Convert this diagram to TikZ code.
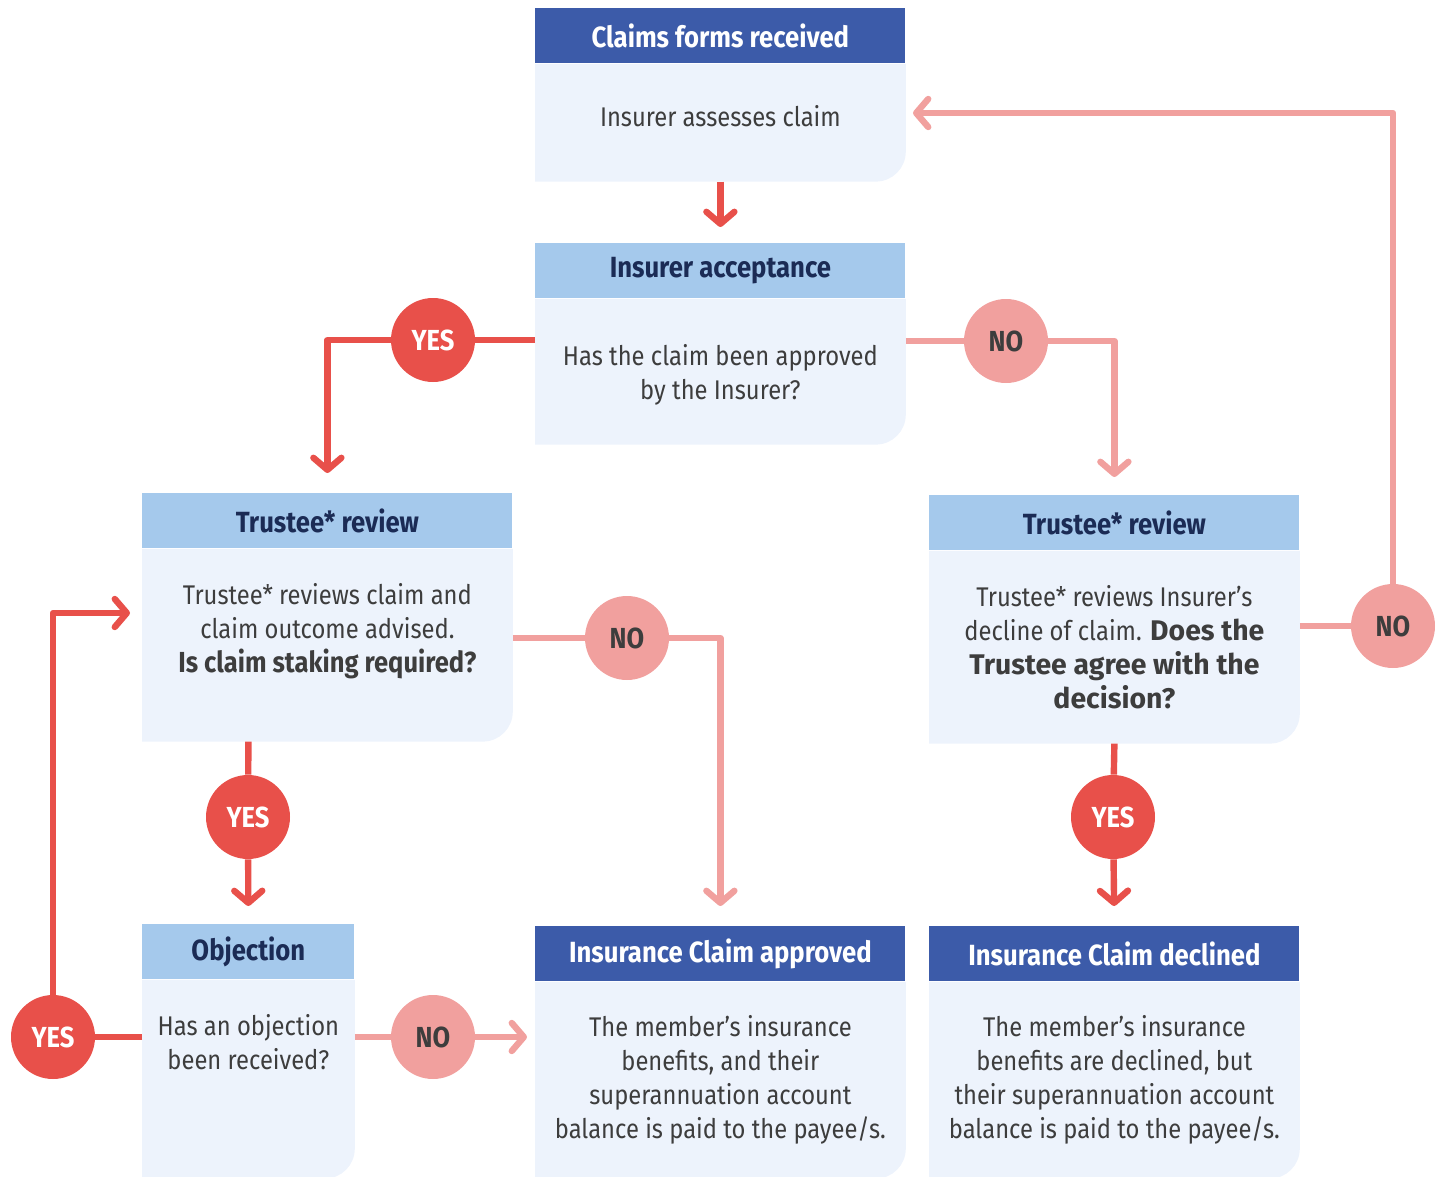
\documentclass[tikz,border=0pt]{standalone}
\usepackage{fontspec}
\setmainfont{Fira Sans}[FakeStretch=0.88]
\newfontfamily\widefont{Fira Sans}
\usetikzlibrary{arrows.meta,backgrounds}

\definecolor{hdrdark}{HTML}{3C5BA9}
\definecolor{hdrlight}{HTML}{A5C9EC}
\definecolor{bodyblue}{HTML}{EDF3FC}
\definecolor{yesred}{HTML}{E8504A}
\definecolor{nopink}{HTML}{F1A09E}
\definecolor{txtgray}{HTML}{3D3D3D}
\definecolor{navy}{HTML}{1B2B55}

\tikzset{
  headdark/.style={rectangle, fill=hdrdark, text=white, inner sep=0pt,
    minimum width=185pt, minimum height=27.5pt,
    font=\fontsize{14.6pt}{16pt}\selectfont\bfseries},
  headlight/.style={headdark, fill=hdrlight, text=navy},
  bodybox/.style={rectangle, inner sep=0pt, minimum width=185pt, align=center,
    text=txtgray, font=\fontsize{13.5pt}{17pt}\selectfont},
  yesdot/.style={circle, fill=yesred, text=white, inner sep=0pt, minimum size=42pt,
    font=\fontsize{14.5pt}{16pt}\selectfont\bfseries},
  nodot/.style={yesdot, fill=nopink, text=txtgray},
  flowarrow/.style={line width=3.2pt, line join=round,
    -{Straight Barb[round,length=6pt,width=14pt]}},
  yesline/.style={flowarrow, draw=yesred},
  noline/.style={flowarrow, draw=nopink}
}

% bold questions inside the bodies
\newcommand{\askbold}[1]{{\fontsize{14.5pt}{17pt}\selectfont\bfseries #1}}
\newcommand{\askwide}[1]{{\widefont\fontsize{14.2pt}{17pt}\selectfont\bfseries #1}}

% light body with one round corner (bottom right)
\newcommand{\cornerfill}[1]{%
  \fill[bodyblue] (#1.north west) -- (#1.north east)
    -- ([yshift=15pt]#1.south east) arc[start angle=0,end angle=-90,radius=15pt]
    -- (#1.south west) -- cycle;}

\begin{document}
\begin{tikzpicture}[x=0.5pt,y=-0.5pt]
  \useasboundingbox (0,0) rectangle (1442,1177);

  % top
  \node[headdark, anchor=north west] (claimsH) at (535,8) {Claims forms received};
  \node[bodybox, anchor=north, minimum height=58.5pt, text depth=7pt] (claimsB) at (claimsH.south) {Insurer assesses claim};

  \node[headlight, anchor=north west] (acceptH) at (535,243) {Insurer acceptance};
  \node[bodybox, anchor=north, minimum height=72.5pt, text depth=0pt] (acceptB) at (acceptH.south) {Has the claim been approved\\by the Insurer?};

  % middle row
  \node[headlight, anchor=north west] (trustLH) at (142,493) {Trustee* review};
  \node[bodybox, anchor=north, minimum height=96pt, text depth=17pt] (trustLB) at (trustLH.south)
    {Trustee* reviews claim and\\claim outcome advised.\\\askbold{Is claim staking required?}};

  \node[headlight, anchor=north west] (trustRH) at (929,495) {Trustee* review};
  \node[bodybox, anchor=north, minimum height=96pt] (trustRB) at (trustRH.south)
    {Trustee* reviews Insurer’s\\decline of claim. \askwide{Does the}\\\askwide{Trustee agree with the}\\\askwide{decision?}};

  % bottom row
  \node[headlight, anchor=north west, minimum width=106pt] (objH) at (142,924) {Objection};
  \node[bodybox, anchor=north, minimum width=106pt, minimum height=99pt, text depth=37pt] (objB) at (objH.south)
    {Has an objection\\been received?};

  \node[headdark, anchor=north west] (apprH) at (535,926) {Insurance Claim approved};
  \node[bodybox, anchor=north, minimum height=98pt] (apprB) at (apprH.south)
    {The member’s insurance\\benefits, and their\\superannuation account\\balance is paid to the payee/s.};

  \node[headdark, anchor=north west] (declH) at (929,926) {Insurance Claim declined};
  \node[bodybox, anchor=north, minimum height=98pt] (declB) at (declH.south)
    {The member’s insurance\\benefits are declined, but\\their superannuation account\\balance is paid to the payee/s.};

  % yes / no
  \node[yesdot] (yesA) at (433,340) {YES};
  \node[nodot] (noA) at (1006,341) {NO};
  \node[nodot] (noL) at (627,638) {NO};
  \node[yesdot] (yesL) at (248,817) {YES};
  \node[yesdot] (yesR) at (1113,817) {YES};
  \node[nodot] (noR) at (1393,626) {NO};
  \node[yesdot] (yesO) at (53,1037) {YES};
  \node[nodot] (noO) at (433,1037) {NO};

  \coordinate (backin) at (905,113);
  \coordinate (reentry) at (142,613);

  \begin{scope}[on background layer]
    \cornerfill{claimsB}
    \cornerfill{acceptB}
    \cornerfill{trustLB}
    \cornerfill{trustRB}
    \cornerfill{objB}
    \cornerfill{apprB}
    \cornerfill{declB}

    \draw[yesline, shorten >=8pt] (claimsB.south) -- (acceptH.north);
    \draw[yesline, shorten >=10pt] (acceptB.west |- yesA) -- (yesA) -| (trustLH.north);
    \draw[noline, shorten >=9pt] (acceptB.east |- noA) -- (noA) -| (trustRH.north);
    \draw[noline, shorten >=10pt] (trustLB.east |- noL) -- (noL) -| (apprH.north);
    \draw[yesline, shorten >=9pt] (objH.north |- trustLB.south) -- (yesL) -- (objH.north);
    \draw[yesline, shorten >=10pt] (trustRB.south) -- (yesR) -- (declH.north);
    \draw[noline, shorten >=4pt] (trustRB.east |- noR) -- (noR) |- (backin);
    \draw[yesline, shorten >=6pt] (objB.west |- yesO) -- (yesO) |- (reentry);
    \draw[noline, shorten >=4pt] (objB.east |- noO) -- (noO) -- (apprB.west |- noO);
  \end{scope}
\end{tikzpicture}
\end{document}
